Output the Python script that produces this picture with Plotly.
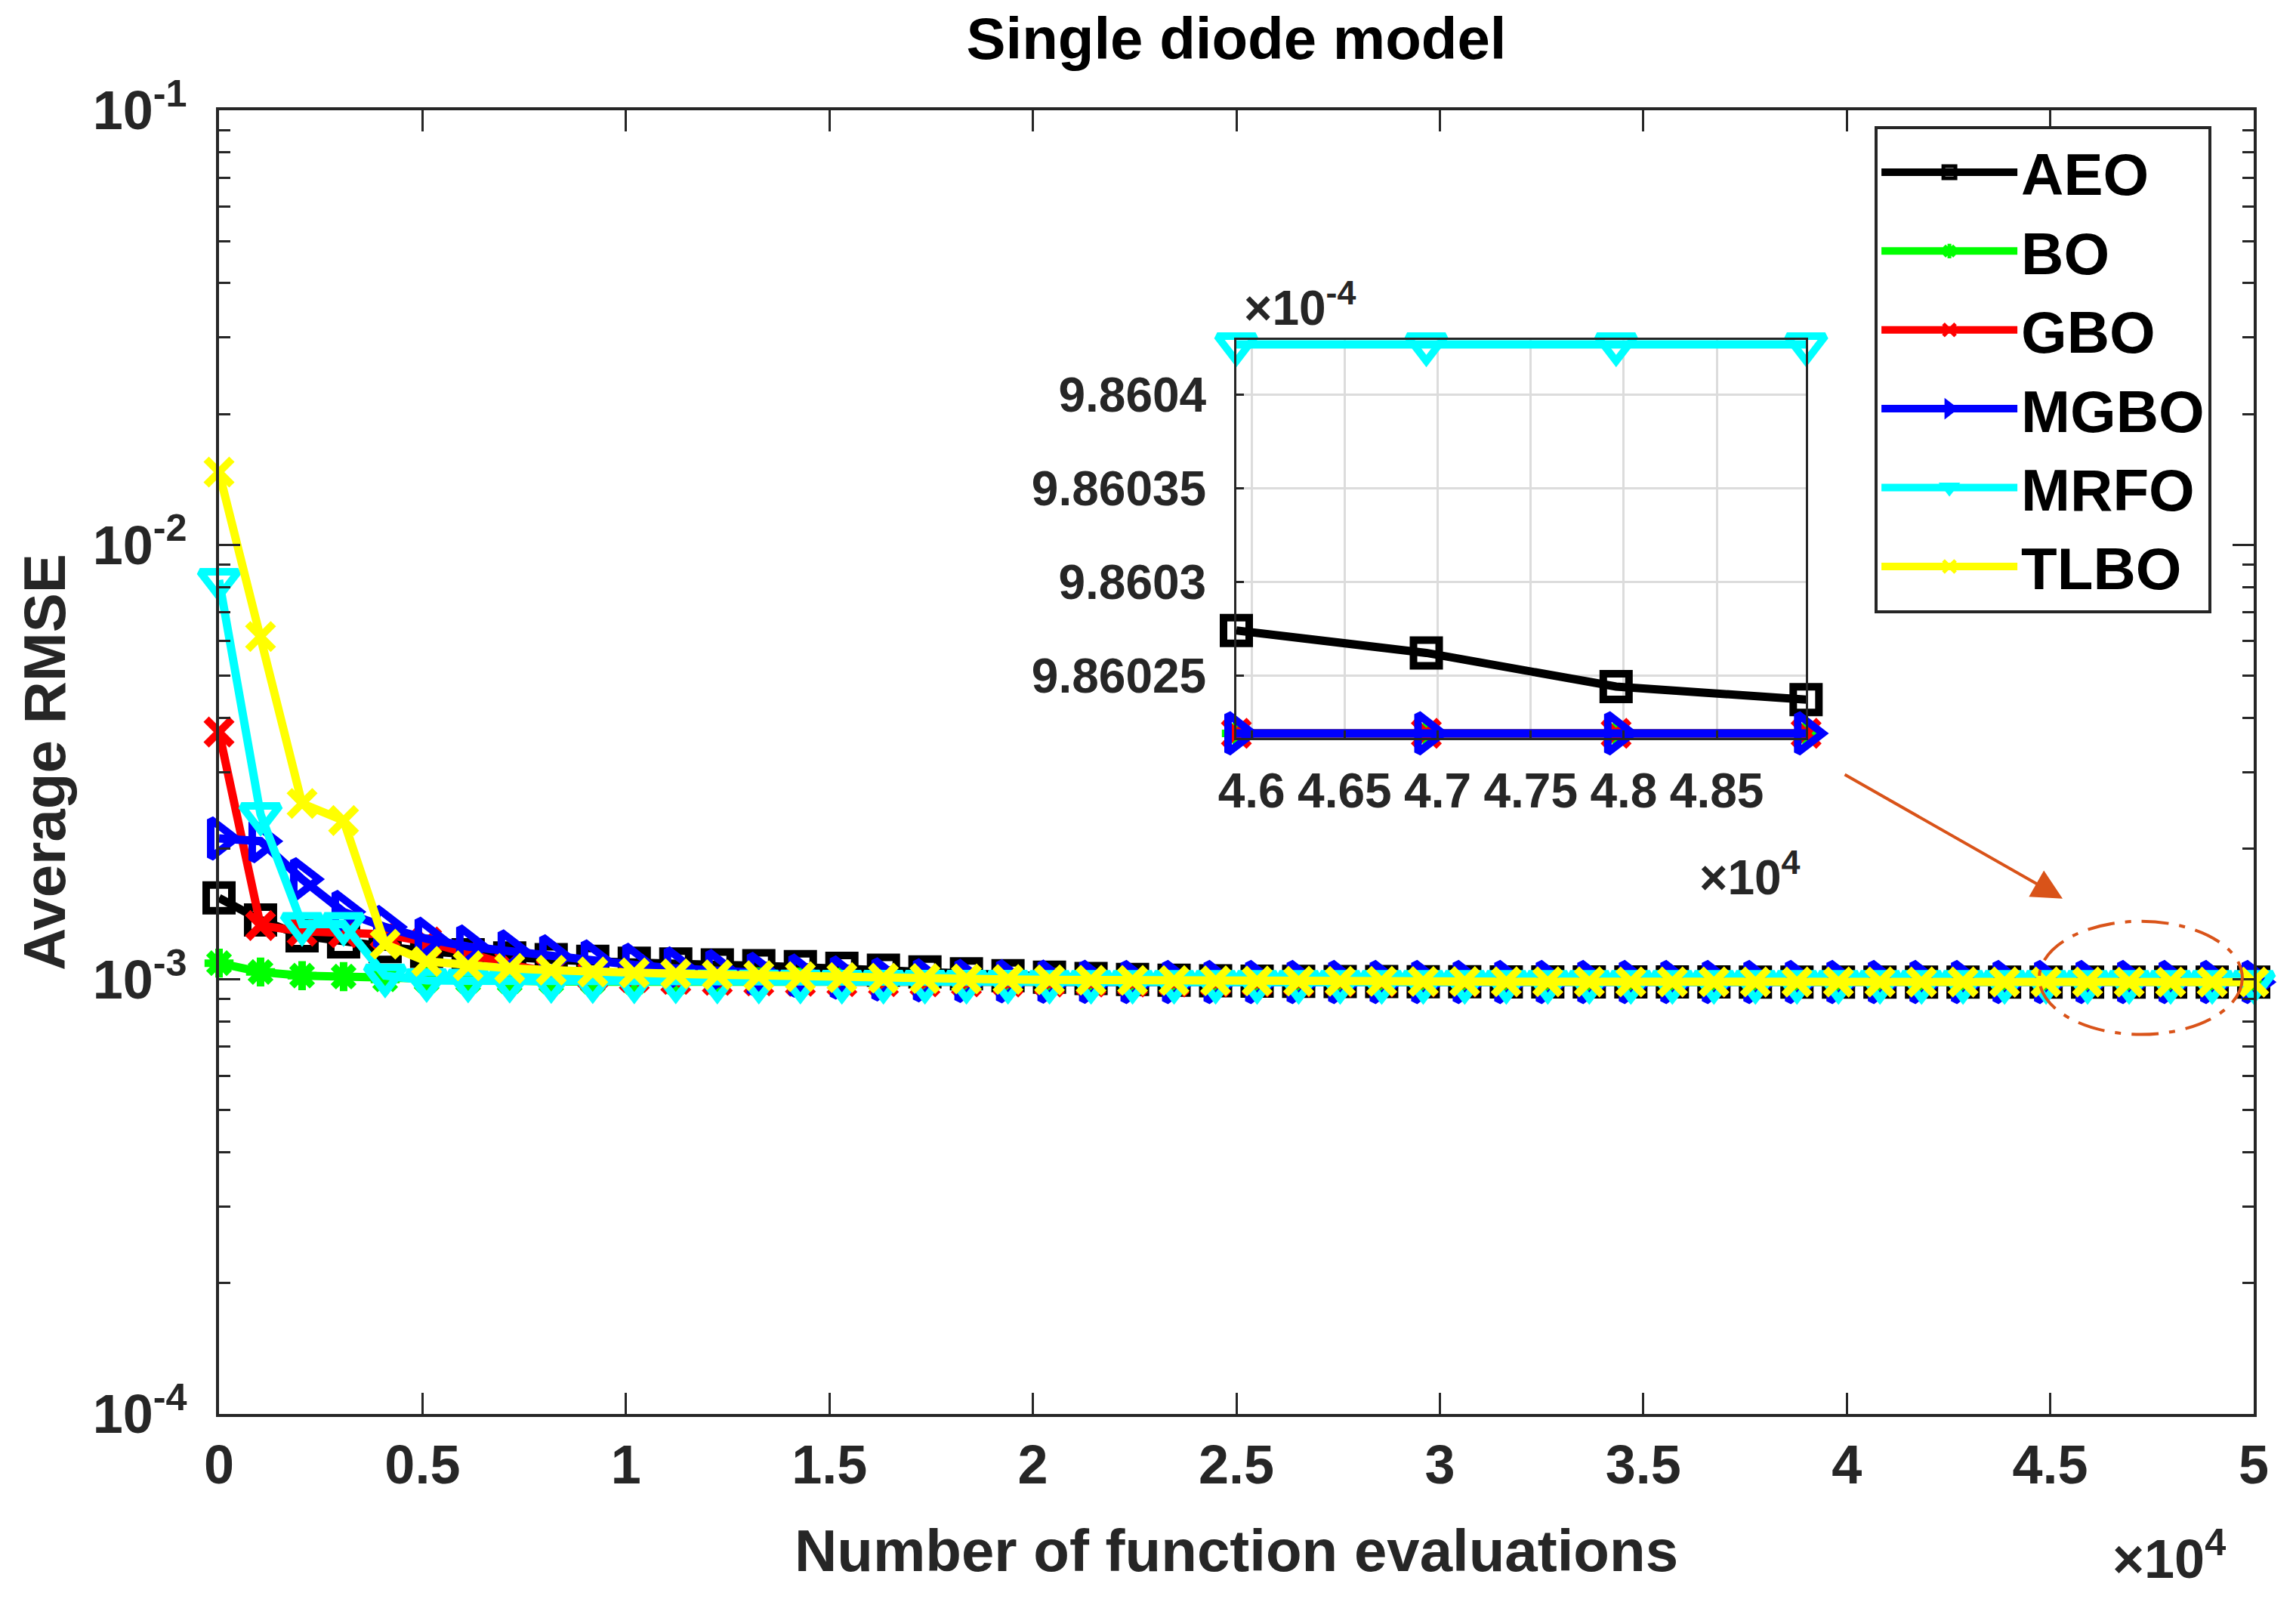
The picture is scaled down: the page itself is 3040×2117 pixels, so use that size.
import plotly.graph_objects as go

# number of function evaluations (50 recorded points)
nfe = [0, 1020, 2041, 3061, 4082, 5102, 6122, 7143, 8163, 9184,
       10204, 11224, 12245, 13265, 14286, 15306, 16327, 17347, 18367, 19388,
       20408, 21429, 22449, 23469, 24490, 25510, 26531, 27551, 28571, 29592,
       30612, 31633, 32653, 33673, 34694, 35714, 36735, 37755, 38776, 39796,
       40816, 41837, 42857, 43878, 44898, 45918, 46939, 47959, 48980, 50000]

aeo = [1.54e-3, 1.37e-3, 1.26e-3, 1.22e-3, 1.19e-3, 1.16e-3, 1.14e-3, 1.12e-3, 1.11e-3, 1.10e-3,
       1.09e-3, 1.085e-3, 1.08e-3, 1.075e-3, 1.07e-3, 1.06e-3, 1.05e-3, 1.04e-3, 1.03e-3, 1.02e-3,
       1.012e-3, 1.005e-3, 1.0e-3, 9.96e-4, 9.93e-4, 9.91e-4, 9.90e-4, 9.89e-4, 9.885e-4, 9.88e-4,
       9.875e-4, 9.872e-4, 9.869e-4, 9.867e-4, 9.865e-4, 9.864e-4, 9.863e-4, 9.8624e-4, 9.8618e-4, 9.8614e-4,
       9.8611e-4, 9.8608e-4, 9.8606e-4, 9.8604e-4, 9.86032e-4, 9.860274e-4, 9.860262e-4, 9.860244e-4, 9.860237e-4, 9.86023e-4]

bo = [1.09e-3, 1.04e-3, 1.02e-3, 1.015e-3, 1.0e-3, 9.95e-4, 9.92e-4, 9.90e-4, 9.89e-4, 9.88e-4,
      9.875e-4, 9.87e-4, 9.867e-4, 9.865e-4, 9.863e-4, 9.862e-4, 9.8615e-4, 9.861e-4, 9.8607e-4, 9.8605e-4,
      9.8604e-4, 9.86035e-4, 9.8603e-4, 9.86028e-4, 9.86026e-4, 9.86025e-4, 9.86024e-4, 9.860235e-4, 9.86023e-4, 9.860228e-4,
      9.860226e-4, 9.860225e-4, 9.860224e-4, 9.860223e-4, 9.860222e-4, 9.860221e-4, 9.860221e-4, 9.86022e-4, 9.86022e-4, 9.86022e-4,
      9.86022e-4, 9.860219e-4, 9.860219e-4, 9.860219e-4, 9.860219e-4, 9.860219e-4, 9.860219e-4, 9.860219e-4, 9.860219e-4, 9.860219e-4]

gbo = [3.71e-3, 1.33e-3, 1.29e-3, 1.28e-3, 1.27e-3, 1.22e-3, 1.15e-3, 1.08e-3, 1.04e-3, 1.02e-3,
       1.01e-3, 1.0e-3, 9.95e-4, 9.92e-4, 9.90e-4, 9.88e-4, 9.875e-4, 9.87e-4, 9.865e-4, 9.862e-4,
       9.861e-4, 9.8605e-4, 9.8603e-4, 9.86027e-4, 9.86025e-4, 9.86024e-4, 9.860235e-4, 9.86023e-4, 9.860228e-4, 9.860226e-4,
       9.860225e-4, 9.860224e-4, 9.860223e-4, 9.860222e-4, 9.860221e-4, 9.86022e-4, 9.86022e-4, 9.86022e-4, 9.860219e-4, 9.860219e-4,
       9.860219e-4, 9.860219e-4, 9.860219e-4, 9.860219e-4, 9.860219e-4, 9.860219e-4, 9.860219e-4, 9.860219e-4, 9.860219e-4, 9.860219e-4]

mgbo = [2.11e-3, 2.08e-3, 1.70e-3, 1.43e-3, 1.32e-3, 1.24e-3, 1.19e-3, 1.16e-3, 1.13e-3, 1.10e-3,
        1.08e-3, 1.06e-3, 1.045e-3, 1.03e-3, 1.02e-3, 1.01e-3, 1.0e-3, 9.95e-4, 9.92e-4, 9.90e-4,
        9.88e-4, 9.87e-4, 9.865e-4, 9.862e-4, 9.861e-4, 9.8605e-4, 9.8603e-4, 9.86025e-4, 9.86023e-4, 9.860222e-4,
        9.860221e-4, 9.86022e-4, 9.86022e-4, 9.860219e-4, 9.860219e-4, 9.860219e-4, 9.860219e-4, 9.860219e-4, 9.860219e-4, 9.860219e-4,
        9.860219e-4, 9.860219e-4, 9.860219e-4, 9.860219e-4, 9.860219e-4, 9.860219e-4, 9.860219e-4, 9.860219e-4, 9.860219e-4, 9.860219e-4]

mrfo = [8.3e-3, 2.40e-3, 1.34e-3, 1.34e-3, 1.02e-3, 9.95e-4, 9.93e-4, 9.92e-4, 9.91e-4, 9.90e-4,
        9.89e-4, 9.885e-4, 9.88e-4, 9.876e-4, 9.873e-4, 9.87e-4, 9.868e-4, 9.866e-4, 9.864e-4, 9.863e-4,
        9.862e-4, 9.8615e-4, 9.861e-4, 9.8608e-4, 9.8606e-4, 9.8605e-4, 9.86048e-4, 9.86046e-4, 9.86045e-4, 9.86044e-4,
        9.860435e-4, 9.860432e-4, 9.86043e-4, 9.860429e-4, 9.860428e-4, 9.860428e-4, 9.860428e-4, 9.860427e-4, 9.860427e-4, 9.860427e-4,
        9.860427e-4, 9.860427e-4, 9.860427e-4, 9.860427e-4, 9.860427e-4, 9.860427e-4, 9.860427e-4, 9.860427e-4, 9.860427e-4, 9.860427e-4]

tlbo = [1.47e-2, 6.15e-3, 2.54e-3, 2.32e-3, 1.205e-3, 1.10e-3, 1.075e-3, 1.06e-3, 1.05e-3, 1.04e-3,
        1.035e-3, 1.03e-3, 1.025e-3, 1.02e-3, 1.015e-3, 1.01e-3, 1.007e-3, 1.005e-3, 1.003e-3, 1.0e-3,
        9.98e-4, 9.96e-4, 9.95e-4, 9.94e-4, 9.93e-4, 9.92e-4, 9.91e-4, 9.90e-4, 9.895e-4, 9.89e-4,
        9.885e-4, 9.88e-4, 9.876e-4, 9.873e-4, 9.87e-4, 9.868e-4, 9.866e-4, 9.865e-4, 9.864e-4, 9.863e-4,
        9.8625e-4, 9.862e-4, 9.8617e-4, 9.8614e-4, 9.8612e-4, 9.861e-4, 9.8609e-4, 9.8608e-4, 9.8607e-4, 9.8606e-4]

algorithms = ["AEO", "BO", "GBO", "MGBO", "MRFO", "TLBO"]
curves = [aeo, bo, gbo, mgbo, mrfo, tlbo]

x_ticks = [0, 5000, 10000, 15000, 20000, 25000, 30000, 35000, 40000, 45000, 50000]
x_labels = ["0", "0.5", "1", "1.5", "2", "2.5", "3", "3.5", "4", "4.5", "5"]
y_ticks = [1e-4, 1e-3, 1e-2, 1e-1]
y_labels = ["10<sup>-4</sup>", "10<sup>-3</sup>", "10<sup>-2</sup>", "10<sup>-1</sup>"]

zoom_x_ticks = [46000, 46500, 47000, 47500, 48000, 48500]
zoom_x_labels = ["4.6", "4.65", "4.7", "4.75", "4.8", "4.85"]
zoom_y_ticks = [9.86025e-4, 9.8603e-4, 9.86035e-4, 9.8604e-4]
zoom_y_labels = ["9.86025", "9.8603", "9.86035", "9.8604"]

# styling
styles = {
    "AEO": dict(color="#000000", symbol="square-open", size=34),
    "BO": dict(color="#00FF00", symbol="asterisk-open", size=32),
    "GBO": dict(color="#FF0000", symbol="x-thin-open", size=34),
    "MGBO": dict(color="#0000FF", symbol="triangle-right-open", size=44),
    "MRFO": dict(color="#00FFFF", symbol="triangle-down-open", size=44),
    "TLBO": dict(color="#FFFF00", symbol="x-thin-open", size=34),
}
FONT = "Liberation Sans, Arial, Helvetica, sans-serif"
AXC = "#262626"
ORANGE = "#D95319"
zoom_lo, zoom_hi = 9.8602165e-4, 9.8604295e-4
zoom_slice = slice(45, 49)


def trace(name, xs, ys, xaxis="x", yaxis="y", legend=True):
    st = styles[name]
    return go.Scatter(
        x=xs, y=ys, name=name, mode="lines+markers",
        xaxis=xaxis, yaxis=yaxis, showlegend=legend, cliponaxis=False,
        line=dict(color=st["color"], width=11),
        marker=dict(symbol=st["symbol"], size=st["size"], color=st["color"],
                    line=dict(color=st["color"], width=10)),
    )


fig = go.Figure()

for name, ys in zip(algorithms, curves):
    fig.add_trace(trace(name, nfe, ys))

# zoomed inset, only curves that fall inside its y window
for name, ys in zip(algorithms, curves):
    part = ys[zoom_slice]
    if min(part) >= zoom_lo and max(part) <= zoom_hi:
        fig.add_trace(trace(name, nfe[zoom_slice], part, "x2", "y2", legend=False))

tick_font = dict(family=FONT, size=72, color=AXC, weight="bold")
inset_font = dict(family=FONT, size=64, color=AXC, weight="bold")
label_font = dict(family=FONT, size=78, color=AXC, weight="bold")
minor_vals = [m * 10.0 ** e for e in (-4, -3, -2) for m in range(2, 10)]

fig.update_layout(
    width=3040, height=2117,
    margin=dict(l=282, r=64, t=138, b=253),
    paper_bgcolor="white", plot_bgcolor="white",
    font=dict(family=FONT, color="black"),
    title=dict(text="Single diode model", x=0.5, xref="paper", xanchor="center",
               y=1 - 43 / 2117, yref="container", yanchor="middle",
               font=dict(family=FONT, size=78, color="black", weight="bold")),
    xaxis=dict(
        domain=[0, 1], range=[0, 50000], tickmode="array",
        tickvals=x_ticks, ticktext=x_labels, tickfont=tick_font,
        ticks="inside", ticklen=28, tickwidth=3, tickcolor=AXC,
        showline=True, linewidth=4, linecolor=AXC, mirror="allticks",
        showgrid=False, zeroline=False, ticklabelstandoff=2,
        title=dict(text="Number of function evaluations", standoff=48, font=label_font),
    ),
    yaxis=dict(
        type="log", range=[-4, -1], tickmode="array",
        tickvals=y_ticks, ticktext=y_labels, tickfont=tick_font,
        ticks="inside", ticklen=28, tickwidth=3, tickcolor=AXC,
        minor=dict(tickmode="array", tickvals=minor_vals, ticks="inside",
                   ticklen=15, tickwidth=3, tickcolor=AXC, showgrid=False),
        showline=True, linewidth=4, linecolor=AXC, mirror="allticks",
        showgrid=False, zeroline=False, ticklabelstandoff=24,
    ),
    xaxis2=dict(
        domain=[0.5, 0.78], anchor="y2", range=[45918, 48980],
        tickmode="array", tickvals=zoom_x_ticks, ticktext=zoom_x_labels,
        tickfont=inset_font, ticks="inside", ticklen=10, tickwidth=3, tickcolor=AXC,
        showline=True, linewidth=3, linecolor=AXC, mirror=True,
        showgrid=True, gridcolor="#DCDCDC", gridwidth=3, zeroline=False,
        ticklabelstandoff=12,
    ),
    yaxis2=dict(
        domain=[0.5185, 0.824], anchor="x2", range=[zoom_lo, zoom_hi],
        tickmode="array", tickvals=zoom_y_ticks, ticktext=zoom_y_labels,
        tickfont=inset_font, ticks="inside", ticklen=10, tickwidth=3, tickcolor=AXC,
        showline=True, linewidth=3, linecolor=AXC, mirror=True,
        showgrid=True, gridcolor="#DCDCDC", gridwidth=3, zeroline=False,
        ticklabelstandoff=24,
    ),
    legend=dict(
        x=0.8137, y=0.988, xanchor="left", yanchor="top",
        bgcolor="white", bordercolor=AXC, borderwidth=4,
        font=dict(family=FONT, size=78, color="black", weight="bold"),
        itemwidth=180, tracegroupgap=0,
    ),
)

# y axis title placed by hand so it sits where the reference has it
fig.add_annotation(text="Average RMSE", xref="paper", yref="paper",
                   x=-0.0857, y=0.5, xanchor="center", yanchor="middle",
                   textangle=-90, showarrow=False, font=label_font)

# axis multipliers
fig.add_annotation(text="×10<sup>4</sup>", xref="paper", yref="paper",
                   x=0.987, y=-0.108, xanchor="right", yanchor="middle",
                   showarrow=False, font=tick_font)
fig.add_annotation(text="×10<sup>4</sup>", xref="paper", yref="paper",
                   x=0.778, y=0.4144, xanchor="right", yanchor="middle",
                   showarrow=False, font=inset_font)
fig.add_annotation(text="×10<sup>-4</sup>", xref="paper", yref="paper",
                   x=0.503, y=0.8513, xanchor="left", yanchor="middle",
                   showarrow=False, font=inset_font)

# arrow pointing from the inset to the zoomed region
fig.add_annotation(text="", xref="paper", yref="paper", x=0.9061, y=0.3953,
                   ax=-290, ay=-165, showarrow=True, arrowhead=2,
                   arrowsize=2, arrowwidth=4, arrowcolor=ORANGE)

fig.add_shape(type="circle", xref="paper", yref="paper",
              x0=0.8946, x1=0.9944, y0=0.2911, y1=0.3779,
              line=dict(color=ORANGE, width=4, dash="36px,14px,8px,14px"))

fig.write_html("out.html")
